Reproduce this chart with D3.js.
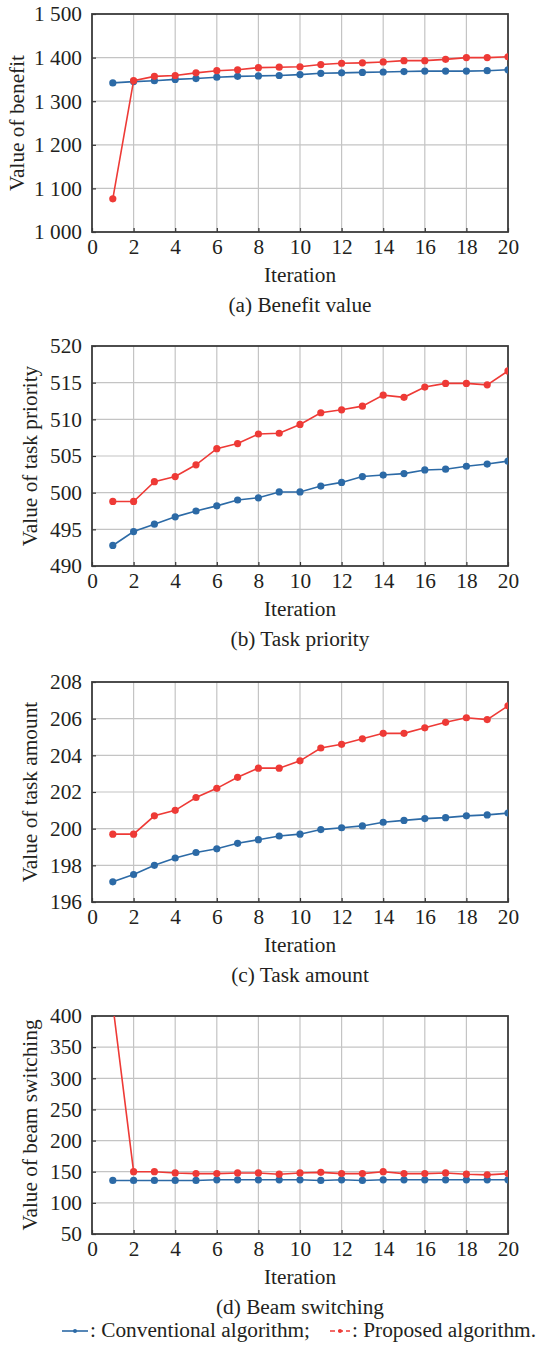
<!DOCTYPE html>
<html>
<head>
<meta charset="utf-8">
<script src="https://cdn.jsdelivr.net/npm/d3@7"></script>
<style>
   body { margin: 0; background: #fff; }
</style>
</head>
<body>
<svg id="svg"></svg>
<script>
let iterations = [1, 2, 3, 4, 5, 6, 7, 8, 9, 10, 11, 12, 13, 14, 15, 16, 17, 18, 19, 20];
let xTicks = [0, 2, 4, 6, 8, 10, 12, 14, 16, 18, 20];

// (a) benefit value
let benefitConv = [1342, 1345, 1347, 1350, 1352, 1355, 1357, 1358, 1359, 1361, 1364, 1365, 1366, 1367, 1368, 1369, 1369, 1369, 1370, 1372];
let benefitProp = [1076, 1347, 1357, 1359, 1365, 1370, 1372, 1377, 1378, 1379, 1384, 1387, 1388, 1390, 1393, 1393, 1396, 1400, 1400, 1402];
let benefitTicks = [1000, 1100, 1200, 1300, 1400, 1500];

// (b) task priority
let priorityConv = [492.8, 494.7, 495.7, 496.7, 497.5, 498.2, 499.0, 499.3, 500.1, 500.1, 500.9, 501.4, 502.2, 502.4, 502.6, 503.1, 503.2, 503.6, 503.9, 504.3];
let priorityProp = [498.8, 498.8, 501.5, 502.2, 503.8, 506.0, 506.7, 508.0, 508.1, 509.3, 510.9, 511.3, 511.8, 513.3, 513.0, 514.4, 514.9, 514.9, 514.7, 516.6];
let priorityTicks = [490, 495, 500, 505, 510, 515, 520];

// (c) task amount
let amountConv = [197.1, 197.5, 198.0, 198.4, 198.7, 198.9, 199.2, 199.4, 199.6, 199.7, 199.95, 200.05, 200.15, 200.35, 200.45, 200.55, 200.6, 200.7, 200.75, 200.85];
let amountProp = [199.7, 199.7, 200.7, 201.0, 201.7, 202.2, 202.8, 203.3, 203.3, 203.7, 204.4, 204.6, 204.9, 205.2, 205.2, 205.5, 205.8, 206.05, 205.95, 206.7];
let amountTicks = [196, 198, 200, 202, 204, 206, 208];

// (d) beam switching
let switchConv = [136, 136, 136, 136, 136, 137, 137, 137, 137, 137, 136, 137, 136, 137, 137, 137, 137, 137, 137, 137];
let switchProp = [418, 150, 150, 148, 147, 147, 148, 148, 146, 148, 149, 147, 147, 150, 147, 147, 148, 146, 145, 147];
let switchTicks = [50, 100, 150, 200, 250, 300, 350, 400];

let seriesNames = ['Conventional algorithm;', 'Proposed algorithm.'];
let colors = ['#2c6aa6', '#ee3a36'];

let panels = [
   { conv: benefitConv, prop: benefitProp, ticks: benefitTicks, yLabel: 'Value of benefit', caption: '(a) Benefit value', spaced: true },
   { conv: priorityConv, prop: priorityProp, ticks: priorityTicks, yLabel: 'Value of task priority', caption: '(b) Task priority' },
   { conv: amountConv, prop: amountProp, ticks: amountTicks, yLabel: 'Value of task amount', caption: '(c) Task amount' },
   { conv: switchConv, prop: switchProp, ticks: switchTicks, yLabel: 'Value of beam switching', caption: '(d) Beam switching' }
];

let layout = {
   width: 537,
   height: 1348,
   left: 92,
   right: 508,
   tops: [14, 346, 682, 1016],
   bottoms: [232, 566, 902, 1234],
   fontSize: 21.3,
   font: '"Liberation Serif", "Times New Roman", serif'
};

let svg = d3.select('#svg')
   .attr('width', layout.width)
   .attr('height', layout.height)
   .attr('font-family', layout.font);

function thousands(d) {
   return d >= 1000 ? Math.floor(d / 1000) + ' ' + d3.format('03d')(d % 1000) : String(d);
}

function addText(parent, str) {
   return parent.append('text')
      .style('font-family', layout.font)
      .style('font-size', layout.fontSize + 'px')
      .style('fill', '#231f20')
      .text(str);
}

function drawPanel(p, i) {
   let top = layout.tops[i];
   let bottom = layout.bottoms[i];
   let x = d3.scaleLinear().domain([0, 20]).range([layout.left, layout.right]);
   let y = d3.scaleLinear().domain(d3.extent(p.ticks)).range([bottom, top]);
   let g = svg.append('g');

   // grid
   g.selectAll('.vgrid').data(xTicks.slice(1, -1)).enter().append('line')
      .attr('x1', d => x(d)).attr('x2', d => x(d))
      .attr('y1', top).attr('y2', bottom)
      .style('stroke', '#c4c4c4').style('stroke-width', 1.2);
   g.selectAll('.hgrid').data(p.ticks.slice(1, -1)).enter().append('line')
      .attr('x1', layout.left).attr('x2', layout.right)
      .attr('y1', d => y(d)).attr('y2', d => y(d))
      .style('stroke', '#c4c4c4').style('stroke-width', 1.2);

   // axes
   let fmt = p.spaced ? thousands : d => String(d);
   let yAxis = g.append('g')
      .attr('transform', 'translate(' + layout.left + ',0)')
      .call(d3.axisLeft(y).tickValues(p.ticks).tickFormat(fmt).tickSize(-4).tickPadding(10));
   let xAxis = g.append('g')
      .attr('transform', 'translate(0,' + bottom + ')')
      .call(d3.axisBottom(x).tickValues(xTicks).tickSize(-4).tickPadding(7));
   [xAxis, yAxis].forEach(a => {
      a.attr('font-family', null);
      a.select('.domain').remove();
      a.selectAll('line').style('stroke', '#333').style('stroke-width', 1.2);
      a.selectAll('text')
         .style('font-family', layout.font)
         .style('font-size', layout.fontSize + 'px')
         .style('fill', '#231f20');
   });

   g.append('rect')
      .attr('x', layout.left).attr('y', top)
      .attr('width', layout.right - layout.left).attr('height', bottom - top)
      .style('fill', 'none').style('stroke', '#3a3a3a').style('stroke-width', 1.8);

   // series
   let clipId = 'clip' + i;
   svg.append('clipPath').attr('id', clipId).append('rect')
      .attr('x', layout.left).attr('y', top)
      .attr('width', layout.right - layout.left).attr('height', bottom - top);

   let line = d3.line().x((d, j) => x(iterations[j])).y(d => y(d));
   let plot = g.append('g').attr('clip-path', 'url(#' + clipId + ')');
   [p.conv, p.prop].forEach((vals, k) => {
      plot.append('path')
         .datum(vals)
         .attr('d', line)
         .style('fill', 'none')
         .style('stroke', colors[k])
         .style('stroke-width', 1.6);
      plot.selectAll('.dot' + k).data(vals).enter().append('circle')
         .attr('cx', (d, j) => x(iterations[j]))
         .attr('cy', d => y(d))
         .attr('r', 3.6)
         .style('fill', colors[k]);
   });

   // labels
   addText(g, 'Iteration')
      .attr('x', (layout.left + layout.right) / 2)
      .attr('y', bottom + 50)
      .attr('text-anchor', 'middle');
   addText(g, p.caption)
      .attr('x', (layout.left + layout.right) / 2)
      .attr('y', bottom + 80)
      .attr('text-anchor', 'middle');
   let titleX = p.spaced ? 24 : 37;
   addText(g, p.yLabel)
      .attr('transform', 'translate(' + titleX + ',' + (top + bottom) / 2 + ') rotate(-90)')
      .attr('text-anchor', 'middle');
}

panels.forEach(drawPanel);

// legend
let legendY = 1331;
let legendItems = [{ x0: 62, x1: 88, dash: null }, { x0: 330, x1: 350, dash: '5,3' }];
legendItems.forEach((item, k) => {
   svg.append('line')
      .attr('x1', item.x0).attr('x2', item.x1)
      .attr('y1', legendY).attr('y2', legendY)
      .style('stroke', colors[k]).style('stroke-width', 1.6)
      .style('stroke-dasharray', item.dash);
   svg.append('circle')
      .attr('cx', (item.x0 + item.x1) / 2).attr('cy', legendY).attr('r', 2)
      .style('fill', colors[k]);
   addText(svg, ': ' + seriesNames[k])
      .attr('x', item.x1 + 2).attr('y', legendY + 6);
});
</script>
</body>
</html>
